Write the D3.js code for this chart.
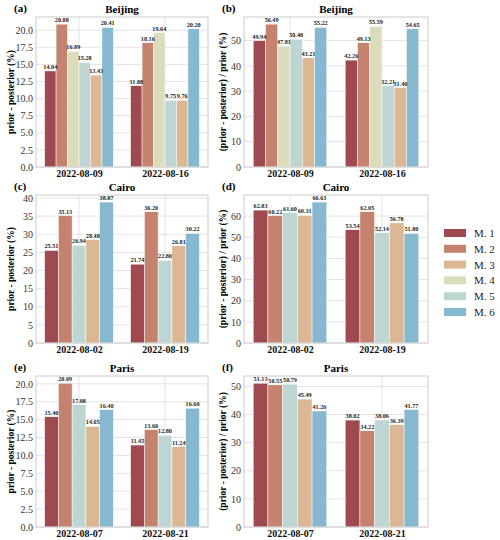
<!DOCTYPE html>
<html>
<head>
<meta charset="utf-8">
<script src="https://cdn.jsdelivr.net/npm/d3@7"></script>
<style>
  body { margin: 0; background: #ffffff; }
  text { font-family: "Liberation Serif", "DejaVu Serif", serif; }
</style>
</head>
<body>
<div id="chart"></div>
<script>
// legend order and colours
var models = ["M. 1", "M. 2", "M. 3", "M. 4", "M. 5", "M. 6"];
var colors = ["#9e4a50", "#c4826f", "#dbb893", "#dcdbbb", "#bdd6d3", "#86b8cf"];

// bar order inside each group
var orderBeijing = ["M. 1", "M. 2", "M. 4", "M. 5", "M. 3", "M. 6"];
var orderOther = ["M. 1", "M. 2", "M. 5", "M. 3", "M. 6"];

var datesBeijing = ["2022-08-09", "2022-08-16"];
var datesCairo = ["2022-08-02", "2022-08-19"];
var datesParis = ["2022-08-07", "2022-08-21"];

// prior - posterior (%)
var beijingAbs = [[14.04, 20.88, 16.89, 15.28, 13.43, 20.41], [11.88, 18.16, 19.64, 9.75, 9.76, 20.20]];
var cairoAbs = [[25.51, 35.13, 26.94, 28.48, 38.87], [21.74, 36.20, 22.80, 26.81, 30.22]];
var parisAbs = [[15.40, 20.09, 17.08, 14.05, 16.40], [11.45, 13.60, 12.80, 11.24, 16.60]];

// (prior - posterior) / prior (%)
var beijingRel = [[49.94, 56.49, 47.81, 50.48, 43.21, 55.22], [42.26, 49.13, 55.59, 32.21, 31.40, 54.65]];
var cairoRel = [[62.83, 60.22, 61.60, 60.31, 66.63], [53.54, 62.05, 52.14, 56.78, 51.80]];
var parisRel = [[51.13, 50.55, 50.79, 45.49, 41.26], [38.02, 34.22, 38.06, 36.39, 41.77]];

var ticksA = [0, 2.5, 5, 7.5, 10, 12.5, 15, 17.5, 20];
var ticksB = [0, 10, 20, 30, 40, 50];
var ticksC = [0, 5, 10, 15, 20, 25, 30, 35, 40];
var ticksD = [0, 10, 20, 30, 40, 50, 60];
var ticksE = [0, 2.5, 5, 7.5, 10, 12.5, 15, 17.5, 20];
var ticksF = [0, 10, 20, 30, 40, 50];

var labelAbs = "prior - posterior (%)";
var labelRel = "(prior - posterior) / prior (%)";

var svg = d3.select("#chart").append("svg").attr("width", 500).attr("height", 540);

var colorOf = d3.scaleOrdinal().domain(models).range(colors);

function drawPanel(p) {
    var g = svg.append("g");
    var x = d3.scaleLinear().domain([-0.5, 1.5]).range([p.left, p.right]);
    var ymax = d3.max(p.values, function (row) { return d3.max(row); }) * 1.05;
    var y = d3.scaleLinear().domain([0, ymax]).range([p.bottom, p.top]);

    // grid
    g.selectAll(".hgrid").data(p.ticks).enter().append("line")
        .attr("x1", p.left).attr("x2", p.right)
        .attr("y1", function (d) { return y(d); }).attr("y2", function (d) { return y(d); })
        .attr("stroke", "#e3e3e3").attr("stroke-width", 1);
    g.selectAll(".vgrid").data(p.dates).enter().append("line")
        .attr("x1", function (d, i) { return x(i); }).attr("x2", function (d, i) { return x(i); })
        .attr("y1", p.top).attr("y2", p.bottom)
        .attr("stroke", "#e3e3e3").attr("stroke-width", 1);

    var n = p.order.length;
    var bw = 0.8 / n;
    var bars = [];
    p.values.forEach(function (row, gi) {
        row.forEach(function (v, si) {
            bars.push({ g: gi, s: si, model: p.order[si], v: v });
        });
    });

    g.selectAll("rect.bar").data(bars).enter().append("rect")
        .attr("class", "bar")
        .attr("x", function (d) { return x(d.g - 0.4 + d.s * bw); })
        .attr("width", x(bw) - x(0))
        .attr("y", function (d) { return y(d.v); })
        .attr("height", function (d) { return y(0) - y(d.v); })
        .attr("fill", function (d) { return colorOf(d.model); })
        .attr("stroke", "#ffffff").attr("stroke-width", 0.5);

    g.selectAll("text.val").data(bars).enter().append("text")
        .attr("x", function (d) { return x(d.g - 0.4 + (d.s + 0.5) * bw); })
        .attr("y", function (d) { return y(d.v) - 2; })
        .attr("text-anchor", "middle")
        .attr("font-size", "6.2px").attr("font-weight", "bold").attr("fill", "#222")
        .text(function (d) { return d.v.toFixed(2); });

    // frame
    g.append("rect").attr("x", p.left).attr("y", p.top)
        .attr("width", p.right - p.left).attr("height", p.bottom - p.top)
        .attr("fill", "none").attr("stroke", "#cccccc").attr("stroke-width", 1);

    // y axis
    var yAxis = g.append("g").attr("transform", "translate(" + p.left + ",0)")
        .call(d3.axisLeft(y).tickValues(p.ticks).tickSize(0).tickPadding(3).tickFormat(d3.format(p.fmt)));
    yAxis.select(".domain").remove();
    yAxis.selectAll("text").attr("font-size", "10px").attr("fill", "#333")
        .style("font-family", "Liberation Serif, serif");

    // x axis
    var xAxis = g.append("g").attr("transform", "translate(0," + p.bottom + ")")
        .call(d3.axisBottom(x).tickValues([0, 1]).tickSize(0).tickPadding(3)
            .tickFormat(function (d) { return p.dates[d]; }));
    xAxis.select(".domain").remove();
    xAxis.selectAll("text").attr("font-size", "10px").attr("font-weight", "bold").attr("fill", "#111")
        .style("font-family", "Liberation Serif, serif");

    // titles
    g.append("text").attr("x", (p.left + p.right) / 2).attr("y", p.top - 4)
        .attr("text-anchor", "middle").attr("font-size", "11px").attr("font-weight", "bold")
        .text(p.title);
    g.append("text").attr("x", p.tagX).attr("y", p.top - 5)
        .attr("font-size", "11px").attr("font-weight", "bold")
        .text(p.tag);
    g.append("text")
        .attr("transform", "translate(" + p.labelX + "," + ((p.top + p.bottom) / 2) + ") rotate(-90)")
        .attr("text-anchor", "middle").attr("font-size", "9.5px").attr("font-weight", "bold")
        .text(p.ylabel);
}

var rows = [
    { top: 17, bottom: 167 },
    { top: 195, bottom: 343 },
    { top: 376, bottom: 527 }
];
var colL = { left: 36, right: 208, labelX: 14, tagX: 14 };
var colR = { left: 244, right: 428, labelX: 226, tagX: 222 };

var panels = [
    { tag: "(a)", title: "Beijing", row: 0, col: colL, values: beijingAbs, order: orderBeijing, dates: datesBeijing, ticks: ticksA, fmt: ".1f", ylabel: labelAbs },
    { tag: "(b)", title: "Beijing", row: 0, col: colR, values: beijingRel, order: orderBeijing, dates: datesBeijing, ticks: ticksB, fmt: "d", ylabel: labelRel },
    { tag: "(c)", title: "Cairo", row: 1, col: colL, values: cairoAbs, order: orderOther, dates: datesCairo, ticks: ticksC, fmt: "d", ylabel: labelAbs },
    { tag: "(d)", title: "Cairo", row: 1, col: colR, values: cairoRel, order: orderOther, dates: datesCairo, ticks: ticksD, fmt: "d", ylabel: labelRel },
    { tag: "(e)", title: "Paris", row: 2, col: colL, values: parisAbs, order: orderOther, dates: datesParis, ticks: ticksE, fmt: ".1f", ylabel: labelAbs },
    { tag: "(f)", title: "Paris", row: 2, col: colR, values: parisRel, order: orderOther, dates: datesParis, ticks: ticksF, fmt: "d", ylabel: labelRel }
];

panels.forEach(function (p) {
    p.top = rows[p.row].top;
    p.bottom = rows[p.row].bottom;
    p.left = p.col.left;
    p.right = p.col.right;
    p.labelX = p.col.labelX;
    p.tagX = p.col.tagX;
    drawPanel(p);
});

// legend
var legend = svg.append("g").attr("transform", "translate(444,229)");
legend.selectAll("rect").data(models).enter().append("rect")
    .attr("x", 0).attr("y", function (d, i) { return i * 15.8; })
    .attr("width", 22).attr("height", 8)
    .attr("fill", function (d) { return colorOf(d); });
legend.selectAll("text").data(models).enter().append("text")
    .attr("x", 30).attr("y", function (d, i) { return i * 15.8 + 8; })
    .attr("font-size", "11px").attr("fill", "#222")
    .text(function (d) { return d; });
</script>
</body>
</html>
